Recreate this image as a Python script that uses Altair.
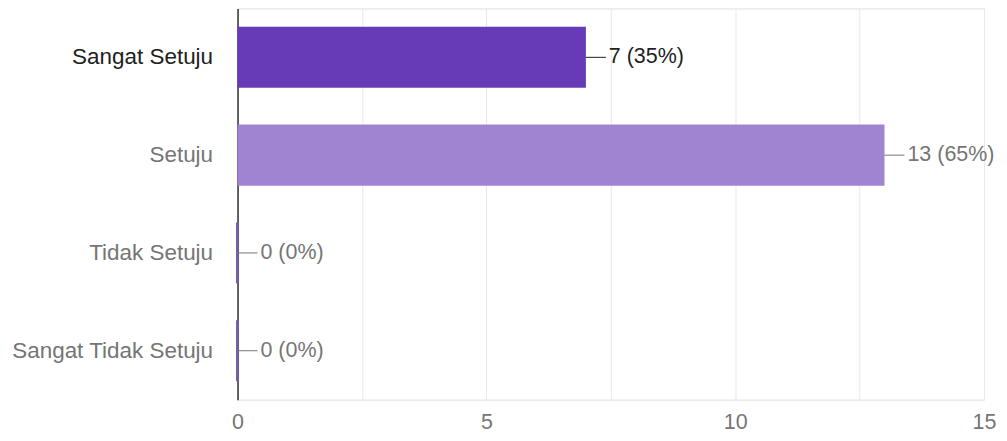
import altair as alt
import pandas as pd

categories = ["Sangat Setuju", "Setuju", "Tidak Setuju", "Sangat Tidak Setuju"]
counts = [7, 13, 0, 0]
labels = ["7 (35%)", "13 (65%)", "0 (0%)", "0 (0%)"]
bar_colors = ["#673AB7", "#A084D1", "#6E5E9C", "#6E5E9C"]
label_colors = ["#212121", "#757575", "#757575", "#757575"]
x_ticks = [0, 2.5, 5, 7.5, 10, 12.5, 15]

df = pd.DataFrame({
    "cat": categories,
    "n": counts,
    "label": labels,
    "color": bar_colors,
    "lcolor": label_colors,
})

FONT = "Liberation Sans"
FS = 21.5

y_enc = alt.Y(
    "cat:N",
    sort=categories,
    scale=alt.Scale(paddingInner=0.376, paddingOuter=0.188),
    axis=alt.Axis(
        title=None,
        ticks=False,
        labelPadding=25,
        labelLimit=400,
        labelFontSize=22.5,
        labelFont=FONT,
        labelColor=alt.ExprRef("datum.value == 'Sangat Setuju' ? '#212121' : '#757575'"),
        domainColor="#333333",
        domainWidth=1.5,
        grid=False,
    ),
)

x_enc = alt.X(
    "n:Q",
    scale=alt.Scale(domain=[0, 15], nice=False),
    axis=alt.Axis(
        title=None,
        values=x_ticks,
        labelExpr="datum.value % 5 == 0 ? datum.label : ''",
        labelFlush=False,
        ticks=False,
        domain=False,
        grid=True,
        gridColor="#e8e8e8",
        labelFontSize=FS,
        labelFont=FONT,
        labelColor="#757575",
        labelPadding=12,
    ),
)

bars = alt.Chart(df).mark_bar().encode(
    y=y_enc,
    x=x_enc,
    x2=alt.datum(0),
    fill=alt.Color("color:N", scale=None),
)

zero_bars = alt.Chart(df).transform_filter("datum.n == 0").mark_bar(strokeWidth=3).encode(
    y=alt.Y("cat:N", sort=categories),
    x=alt.X("n:Q"),
    x2=alt.datum(0),
    fill=alt.Color("color:N", scale=None),
    stroke=alt.Color("color:N", scale=None),
)

leader = alt.Chart(df).mark_rule(x2Offset=20, strokeWidth=1).encode(
    y=alt.Y("cat:N", sort=categories),
    x=alt.X("n:Q"),
    x2=alt.X2("n:Q"),
    color=alt.Color("lcolor:N", scale=None),
)

text = alt.Chart(df).mark_text(
    align="left", baseline="middle", dx=23, fontSize=FS, font=FONT
).encode(
    y=alt.Y("cat:N", sort=categories),
    x=alt.X("n:Q"),
    text="label:N",
    color=alt.Color("lcolor:N", scale=None),
)

chart = alt.layer(bars, zero_bars, leader, text).properties(
    width=748,
    height=392,
    autosize="none",
    padding={"left": 230, "top": 0, "right": 15, "bottom": 33},
).configure_view(stroke="#e8e8e8").configure(background="white")

chart.save("out.html", embed_options={"renderer": "svg", "actions": False})
